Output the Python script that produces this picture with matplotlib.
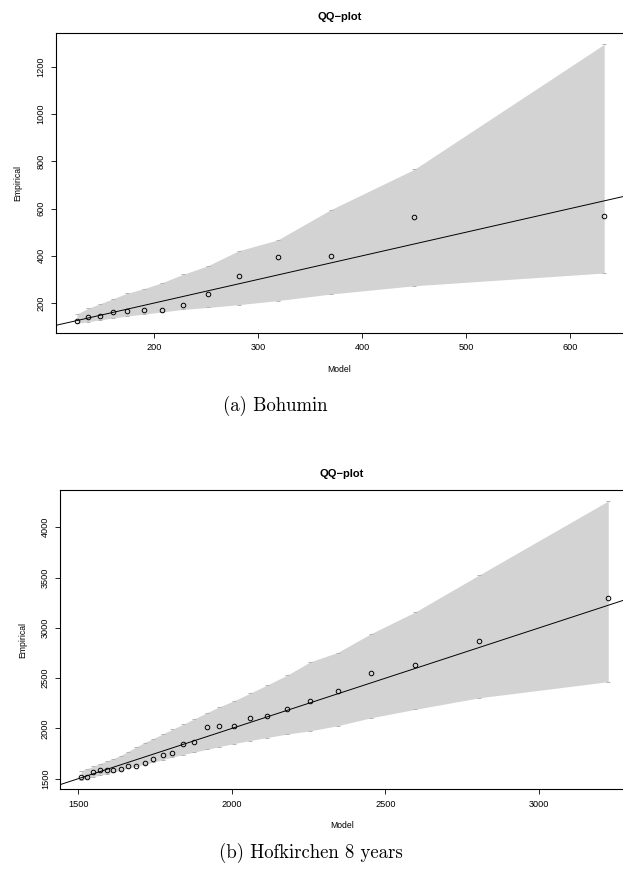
import matplotlib
matplotlib.use("Agg")
import matplotlib.pyplot as plt

plt.rcParams["font.family"] = ["Liberation Sans", "DejaVu Sans"]
plt.rcParams["font.size"] = 6.2
plt.rcParams["xtick.labelsize"] = 6.6
plt.rcParams["ytick.labelsize"] = 6.6
plt.rcParams["xtick.direction"] = "out"
plt.rcParams["ytick.direction"] = "out"

# (a) Bohumin
bo_model = [125.7, 136, 147.5, 160.3, 173.7, 189.8, 207.4, 227.6, 251.6, 281, 318.6, 369.6, 450, 632.4]
bo_emp = [124, 139.5, 145, 160.6, 165, 169, 169, 190, 237, 315.6, 393, 397.6, 562.6, 569]
bo_upper = [153, 177, 196, 218, 241, 260.5, 286, 321, 358, 421, 467, 595, 766, 1295]
bo_lower = [114, 121, 128, 136.5, 145, 153, 162, 173, 181, 193, 210, 238, 273, 327]

# (b) Hofkirchen 8 years
ho_model = [1510, 1530, 1550, 1570, 1593, 1614, 1638, 1662, 1689, 1716, 1745, 1775, 1806, 1841,
            1878, 1918, 1960, 2008, 2059, 2115, 2181, 2256, 2344, 2454, 2597, 2805, 3225]
ho_emp = [1520, 1520, 1570, 1587, 1587, 1587, 1597, 1623, 1630, 1656, 1699, 1733, 1756, 1845,
          1862, 2014, 2024, 2024, 2104, 2124, 2197, 2276, 2374, 2553, 2633, 2865, 3296]
ho_upper = [1580, 1600, 1625, 1650, 1675, 1700, 1730, 1770, 1815, 1860, 1900, 1945, 1990, 2040,
            2095, 2155, 2216, 2276, 2349, 2432, 2531, 2663, 2755, 2944, 3158, 3526, 4262]
ho_lower = [1490, 1505, 1520, 1535, 1550, 1565, 1585, 1605, 1625, 1645, 1665, 1690, 1715, 1740,
            1765, 1792, 1820, 1850, 1880, 1910, 1945, 1977, 2027, 2107, 2190, 2305, 2465]


def qq_panel(ax, model, emp, upper, lower, xlim, ylim, xticks, yticks):
    ax.fill_between(model, lower, upper, color="#d3d3d3", lw=0)
    ax.plot(model, upper, ls="none", marker="_", ms=3, mew=0.7, color="#b4b4b4")
    ax.plot(model, lower, ls="none", marker="_", ms=3, mew=0.7, color="#b4b4b4")
    ax.axline((xlim[0], xlim[0]), slope=1, color="black", lw=0.7)
    ax.plot(model, emp, ls="none", marker="o", ms=3.3, mfc="none", mec="black", mew=0.7)
    ax.set_xlim(*xlim)
    ax.set_ylim(*ylim)
    ax.set_xticks(xticks)
    ax.set_yticks(yticks)
    for lab in ax.get_yticklabels():
        lab.set_rotation(90)
        lab.set_va("center")
    ax.tick_params(length=3.5, width=0.6, pad=4)
    for s in ax.spines.values():
        s.set_linewidth(0.8)
    ax.spines["right"].set_visible(False)
    ax.set_title("QQ\u2212plot", fontweight="bold", fontsize=8, pad=9)
    ax.set_xlabel("Model", labelpad=9)
    ax.set_ylabel("Empirical", labelpad=10)


def main():
    fig = plt.figure(figsize=(6.23, 8.75), dpi=100)

    ax1 = fig.add_axes([56 / 623, 1 - 333 / 875, (623 - 56) / 623, 300 / 875])
    qq_panel(ax1, bo_model, bo_emp, bo_upper, bo_lower,
             (105.5, 650.5), (73, 1343), [200, 300, 400, 500, 600],
             [200, 400, 600, 800, 1000, 1200])

    ax2 = fig.add_axes([60.3 / 623, 1 - 789.3 / 875, (623 - 60.3) / 623, 299.3 / 875])
    qq_panel(ax2, ho_model, ho_emp, ho_upper, ho_lower,
             (1442, 3273), (1395, 4371), [1500, 2000, 2500, 3000],
             [1500, 2000, 2500, 3000, 3500, 4000])

    fig.text(275 / 623, 1 - 406 / 875, "(a) Bohumin", fontname="cmr10",
             fontsize=13.5, ha="center", va="center")
    fig.text(311 / 623, 1 - 853 / 875, "(b) Hofkirchen 8 years", fontname="cmr10",
             fontsize=13.5, ha="center", va="center")

    fig.savefig("out.png", dpi=100)


if __name__ == "__main__":
    main()
